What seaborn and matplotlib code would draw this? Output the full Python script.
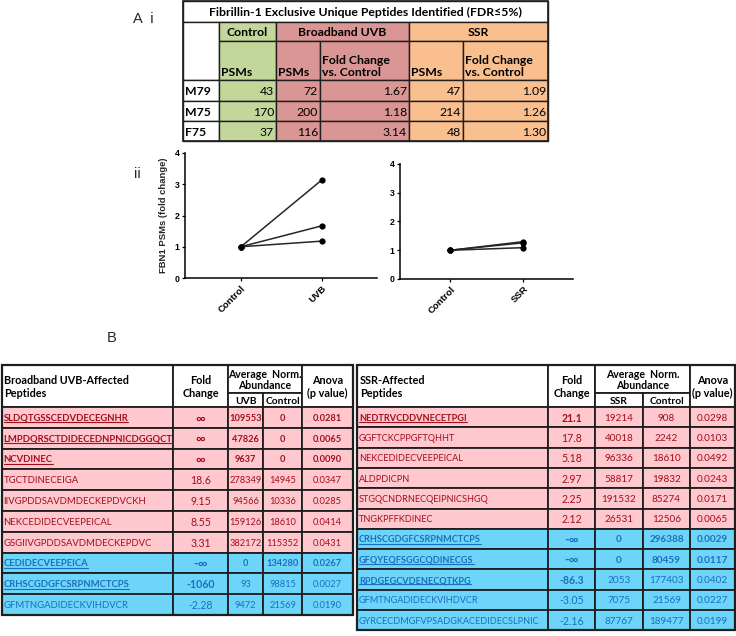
import matplotlib
matplotlib.use("Agg")
import matplotlib.pyplot as plt
from matplotlib.patches import Rectangle
import pandas as pd
import seaborn as sns

# ---- panel A i / ii : PSM counts per donor ----
samples = ["M79", "M75", "F75"]
control_psms = [43, 170, 37]
uvb_psms = [72, 200, 116]
uvb_fold = [1.67, 1.18, 3.14]
ssr_psms = [47, 214, 48]
ssr_fold = [1.09, 1.26, 1.30]
control_fold = [1.0, 1.0, 1.0]

# ---- panel B : broadband UVB affected peptides ----
uvb_peptides = ["SLDQTGSSCEDVDECEGNHR", "LMPDQRSCTDIDECEDNPNICDGGQCT", "NCVDINEC",
                "TGCTDINECEIGA", "IIVGPDDSAVDMDECKEPDVCKH", "NEKCEDIDECVEEPEICAL",
                "GSGIIVGPDDSAVDMDECKEPDVC", "CEDIDECVEEPEICA", "CRHSCGDGFCSRPNMCTCPS",
                "GFMTNGADIDECKVIHDVCR"]
uvb_change = ["∞", "∞", "∞", "18.6", "9.15", "8.55", "3.31", "-∞", "-1060", "-2.28"]
uvb_abund = [109553, 47826, 9637, 278349, 94566, 159126, 382172, 0, 93, 9472]
uvb_ctrl_abund = [0, 0, 0, 14945, 10336, 18610, 115352, 134280, 98815, 21569]
uvb_pval = ["0.0281", "0.0065", "0.0090", "0.0347", "0.0285", "0.0414", "0.0431",
            "0.0267", "0.0027", "0.0190"]

# ---- panel B : SSR affected peptides ----
ssr_peptides = ["NEDTRVCDDVNECETPGI", "GGFTCKCPPGFTQHHT", "NEKCEDIDECVEEPEICAL",
                "ALDPDICPN", "STGQCNDRNECQEIPNICSHGQ", "TNGKPFFKDINEC",
                "CRHSCGDGFCSRPNMCTCPS", "GFQYEQFSGGCQDINECGS", "RPDGEGCVDENECQTKPG",
                "GFMTNGADIDECKVIHDVCR", "GYRCECDMGFVPSADGKACEDIDECSLPNIC"]
ssr_change = ["21.1", "17.8", "5.18", "2.97", "2.25", "2.12", "-∞", "-∞", "-86.3",
              "-3.05", "-2.16"]
ssr_abund = [19214, 40018, 96336, 58817, 191532, 26531, 0, 0, 2053, 7075, 87767]
ssr_ctrl_abund = [908, 2242, 18610, 19832, 85274, 12506, 296388, 80459, 177403, 21569, 189477]
ssr_pval = ["0.0298", "0.0103", "0.0492", "0.0243", "0.0171", "0.0065", "0.0029",
            "0.0117", "0.0402", "0.0227", "0.0199"]

W, H = 736, 636
sns.set_theme(style="ticks")
plt.rcParams["font.family"] = ["Lato", "DejaVu Sans"]
ARIAL = ["Liberation Sans", "DejaVu Sans"]

fig = plt.figure(figsize=(W / 100, H / 100), dpi=100)
fig.patch.set_facecolor("white")
bg = fig.add_axes([0, 0, 1, 1])
bg.set_xlim(0, W)
bg.set_ylim(H, 0)
bg.axis("off")

EDGE = "#1e1e1e"
underlined = []


def cell(x0, x1, y0, y1, fc="white", lw=1.0):
    bg.add_patch(Rectangle((x0, y0), x1 - x0, y1 - y0, facecolor=fc,
                           edgecolor=EDGE, linewidth=lw))


def txt(x, y, s, ha="center", va="center", size=7, bold=False, color="black", **kw):
    return bg.text(x, y, s, ha=ha, va=va, fontsize=size,
                   fontweight="bold" if bold else "normal", color=color, **kw)


# panel labels
bg.text(133, 19, "A  i", fontsize=10.5, family=ARIAL, va="center")
bg.text(134, 174, "ii", fontsize=10.5, family=ARIAL, va="center")
bg.text(107, 338, "B", fontsize=10.5, family=ARIAL, va="center")

# ---------------- table A i ----------------
GREEN, ROSE, ORANGE = "#c4d79b", "#da9694", "#fabf8f"
cx = [183, 219, 276, 320, 409, 463, 548]
ry = [1, 22, 41, 80, 101, 121, 141]
cell(cx[0], cx[6], ry[0], ry[1])
txt((cx[0] + cx[6]) / 2, (ry[0] + ry[1]) / 2 + 1,
    "Fibrillin-1 Exclusive Unique Peptides Identified (FDR≤5%)", size=8.8, bold=True,
    family=["Lato", "DejaVu Sans"])
cell(cx[0], cx[1], ry[1], ry[3])
cell(cx[1], cx[2], ry[1], ry[2], GREEN)
cell(cx[2], cx[4], ry[1], ry[2], ROSE)
cell(cx[4], cx[6], ry[1], ry[2], ORANGE)
txt((cx[1] + cx[2]) / 2, (ry[1] + ry[2]) / 2 + 1, "Control", size=8.8, bold=True)
txt((cx[2] + cx[4]) / 2, (ry[1] + ry[2]) / 2 + 1, "Broadband UVB", size=8.8, bold=True)
txt((cx[4] + cx[6]) / 2, (ry[1] + ry[2]) / 2 + 1, "SSR", size=8.8, bold=True)
sub_fill = [GREEN, ROSE, ROSE, ORANGE, ORANGE]
sub_text = ["PSMs", "PSMs", "Fold Change\nvs. Control", "PSMs", "Fold Change\nvs. Control"]
for i in range(5):
    cell(cx[i + 1], cx[i + 2], ry[2], ry[3], sub_fill[i])
    txt(cx[i + 1] + 2, ry[3] - 2, sub_text[i], ha="left", va="bottom", size=8.8,
        bold=True, linespacing=1.15)
cols = [control_psms, uvb_psms, uvb_fold, ssr_psms, ssr_fold]
for r, name in enumerate(samples):
    y0, y1 = ry[3 + r], ry[4 + r]
    cell(cx[0], cx[1], y0, y1)
    txt(cx[0] + 2, (y0 + y1) / 2 + 1, name, ha="left", size=8.8, bold=True)
    for i, vals in enumerate(cols):
        cell(cx[i + 1], cx[i + 2], y0, y1, sub_fill[i])
        v = vals[r]
        s = f"{v:.2f}" if isinstance(v, float) else str(v)
        txt(cx[i + 2] - 2, (y0 + y1) / 2 + 1, s, ha="right", size=8.8)
bg.add_patch(Rectangle((cx[0], ry[0]), cx[6] - cx[0], ry[6] - ry[0], fill=False,
                       edgecolor=EDGE, linewidth=1.2))

# ---------------- tables B ----------------
PINK, SKY = "#ffc7ce", "#6dd5f9"
RED_T, BLUE_T = "#a0101c", "#1b6fbe"


def peptide_table(xs, top, sub_y, head_b, row_h, title, cond, peptides, change,
                  abund, ctrl, pval, n_up, full_bold, part_bold, pep_size, num_size):
    lw = 1.3
    cell(xs[0], xs[1], top, head_b, lw=lw)
    cell(xs[1], xs[2], top, head_b, lw=lw)
    cell(xs[2], xs[4], top, sub_y, lw=lw)
    cell(xs[2], xs[3], sub_y, head_b, lw=lw)
    cell(xs[3], xs[4], sub_y, head_b, lw=lw)
    cell(xs[4], xs[5], top, head_b, lw=lw)
    hc = (top + head_b) / 2
    txt(xs[0] + 3, hc + 1, title, ha="left", size=7.8, bold=True, linespacing=1.3)
    txt((xs[1] + xs[2]) / 2, hc + 1, "Fold\nChange", size=7.8, bold=True, linespacing=1.3)
    txt((xs[2] + xs[4]) / 2, (top + sub_y) / 2 + 1, "Average  Norm.\nAbundance",
        size=7.6, bold=True, linespacing=1.1)
    txt((xs[2] + xs[3]) / 2, (sub_y + head_b) / 2 + 1, cond, size=7.4, bold=True)
    txt((xs[3] + xs[4]) / 2, (sub_y + head_b) / 2 + 1, "Control", size=7.4, bold=True)
    txt((xs[4] + xs[5]) / 2, hc + 1, "Anova\n(p value)", size=7.8, bold=True, linespacing=1.3)
    for r in range(len(peptides)):
        y0 = head_b + r * row_h
        y1 = y0 + row_h
        yc = (y0 + y1) / 2 + 1
        up = r < n_up
        fc, col = (PINK, RED_T) if up else (SKY, BLUE_T)
        for c in range(5):
            cell(xs[c], xs[c + 1], y0, y1, fc, lw=lw)
        strong = r in full_bold or r in part_bold
        t = txt(xs[0] + 2, yc, peptides[r], ha="left", size=pep_size, bold=strong, color=col)
        if strong:
            underlined.append((t, col))
        fs = 9.5 if "∞" in change[r] else 7.6
        txt((xs[1] + xs[2]) / 2, yc, change[r], size=fs, bold=strong, color=col)
        rest = [str(abund[r]), str(ctrl[r]), pval[r]]
        for c, s in enumerate(rest):
            txt((xs[c + 2] + xs[c + 3]) / 2, yc, s, size=num_size, bold=r in full_bold,
                color=col)
    bottom = head_b + len(peptides) * row_h
    bg.add_patch(Rectangle((xs[0], top), xs[5] - xs[0], bottom - top, fill=False,
                           edgecolor=EDGE, linewidth=1.6))


peptide_table([1.5, 173, 228, 263, 302, 353], 365, 393, 407, 20.8,
              "Broadband UVB-Affected\nPeptides", "UVB", uvb_peptides, uvb_change,
              uvb_abund, uvb_ctrl_abund, uvb_pval, 7, {0, 1, 2, 7}, {8}, 6.8, 6.7)
peptide_table([357, 548, 595, 643, 690, 734.5], 365, 393, 407, 20.3,
              "SSR-Affected\nPeptides", "SSR", ssr_peptides, ssr_change,
              ssr_abund, ssr_ctrl_abund, ssr_pval, 6, {6, 7}, {0, 8}, 6.6, 7.2)

# underline the highlighted peptides
fig.canvas.draw()
inv = bg.transData.inverted()
for t, col in underlined:
    bb = t.get_window_extent()
    (x0, ya), (x1, yb) = inv.transform([[bb.x0, bb.y0], [bb.x1, bb.y1]])
    yl = max(ya, yb) - 0.8
    bg.plot([x0, x1], [yl, yl], color=col, linewidth=0.8)

# ---------------- panel A ii : fold change plots ----------------
df_uvb = pd.DataFrame({"subject": samples * 2,
                       "condition": ["Control"] * 3 + ["UVB"] * 3,
                       "fold": control_fold + uvb_fold})
df_ssr = pd.DataFrame({"subject": samples * 2,
                       "condition": ["Control"] * 3 + ["SSR"] * 3,
                       "fold": control_fold + ssr_fold})

ax1 = fig.add_axes([185 / W, 1 - 278 / H, 192 / W, 125 / H])
ax2 = fig.add_axes([400 / W, 1 - 279 / H, 173 / W, 115 / H])
for ax, df in [(ax1, df_uvb), (ax2, df_ssr)]:
    ax.patch.set_alpha(0)
    sns.lineplot(data=df, x="condition", y="fold", units="subject", estimator=None,
                 color="#262626", marker="o", markersize=4.5, markeredgewidth=0,
                 markerfacecolor="black", linewidth=1.1, legend=False, ax=ax)
    ax.set_xlim(-0.69, 1.68)
    ax.set_ylim(0, 4)
    ax.set_yticks([0, 1, 2, 3, 4])
    ax.set_xlabel("")
    ax.set_ylabel("")
    sns.despine(ax=ax)
    for s in ["left", "bottom"]:
        ax.spines[s].set_linewidth(1.1)
        ax.spines[s].set_color("black")
    ax.tick_params(length=2.5, width=0.9, pad=1.5, colors="black")
    for lab in ax.get_yticklabels():
        lab.set_fontsize(6.3)
        lab.set_fontweight("bold")
        lab.set_family(ARIAL)
    for lab in ax.get_xticklabels():
        lab.set_fontsize(6.8)
        lab.set_fontweight("bold")
        lab.set_family(ARIAL)
        lab.set_rotation(45)
        lab.set_ha("right")
        lab.set_rotation_mode("anchor")
ax1.set_ylabel("FBN1 PSMs (fold change)", fontsize=6.8, fontweight="bold",
               family=ARIAL, labelpad=5)

fig.savefig("out.png", dpi=100, facecolor="white")
